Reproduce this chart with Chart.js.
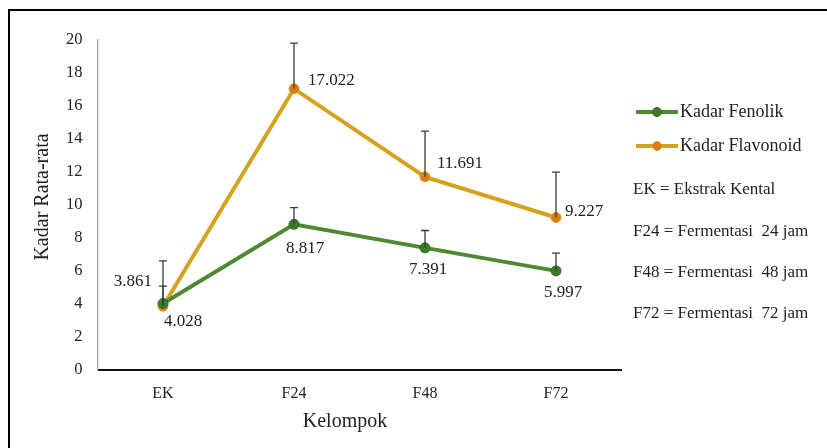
<!DOCTYPE html>
<html>
<head>
<meta charset="utf-8">
<script src="https://cdn.jsdelivr.net/npm/chart.js@4.4.1/dist/chart.umd.min.js"></script>
<style>
  html, body { margin: 0; padding: 0; background: #fff; }
  #wrap { position: relative; width: 827px; height: 448px; }
  #frame { position: absolute; left: 8px; top: 9px; width: 819px; height: 439px;
           border-left: 2px solid #000; border-top: 2px solid #000; box-sizing: border-box; pointer-events: none; }
</style>
</head>
<body>
<div id="wrap">
  <canvas id="chart" width="827" height="448"></canvas>
  <div id="frame"></div>
</div>
<script>
// Data
const kelompok = ['EK', 'F24', 'F48', 'F72'];
const fenolik = [4.028, 8.817, 7.391, 5.997];
const flavonoid = [3.861, 17.022, 11.691, 9.227];
const errFenolik = [1.05, 1.01, 1.05, 1.07];
const errFlavonoid = [2.74, 2.76, 2.77, 2.75];
const yTicks = [0, 2, 4, 6, 8, 10, 12, 14, 16, 18, 20];
const keterangan = ['EK = Ekstrak Kental', 'F24 = Fermentasi  24 jam', 'F48 = Fermentasi  48 jam', 'F72 = Fermentasi  72 jam'];

// offset label data (px) per titik
const offFenolik = [[20, 18], [11, 24], [3, 22], [7, 22]];
const offFlavonoid = [[-11, -25, 'right'], [14, -8, 'left'], [12, -13, 'left'], [9, -6, 'left']];

const SERIF = '"Liberation Serif", "Times New Roman", serif';
const HIJAU = '#4f8a32';
const EMAS = '#d4a21e';

// error bar (hanya arah plus)
const errorBars = {
  id: 'errorBars',
  afterDatasetsDraw(chart) {
    const { ctx, scales: { x, y } } = chart;
    const sets = [[fenolik, errFenolik], [flavonoid, errFlavonoid]];
    ctx.save();
    ctx.strokeStyle = '#3a3a3a';
    ctx.lineWidth = 1.3;
    sets.forEach(([vals, errs]) => {
      vals.forEach((v, i) => {
        const px = x.getPixelForValue(i);
        const y0 = y.getPixelForValue(v);
        const y1 = y.getPixelForValue(v + errs[i]);
        ctx.beginPath();
        ctx.moveTo(px, y0);
        ctx.lineTo(px, y1);
        ctx.moveTo(px - 4, y1);
        ctx.lineTo(px + 4, y1);
        ctx.stroke();
      });
    });
    ctx.restore();
  }
};

// label nilai, legenda, keterangan, judul sumbu
const extras = {
  id: 'extras',
  afterDraw(chart) {
    const { ctx, scales: { x, y } } = chart;
    ctx.save();
    ctx.fillStyle = '#222';
    ctx.font = '17px ' + SERIF;
    ctx.textBaseline = 'middle';
    fenolik.forEach((v, i) => {
      ctx.textAlign = 'center';
      ctx.fillText(v.toFixed(3), x.getPixelForValue(i) + offFenolik[i][0], y.getPixelForValue(v) + offFenolik[i][1]);
    });
    flavonoid.forEach((v, i) => {
      ctx.textAlign = offFlavonoid[i][2];
      ctx.fillText(v.toFixed(3), x.getPixelForValue(i) + offFlavonoid[i][0], y.getPixelForValue(v) + offFlavonoid[i][1]);
    });

    // legenda
    const items = [
      { text: 'Kadar Fenolik', line: HIJAU, fill: '#3e7a28', border: '#2f6a20', y: 112 },
      { text: 'Kadar Flavonoid', line: EMAS, fill: '#e07818', border: '#d4a21e', y: 146 }
    ];
    items.forEach(it => {
      ctx.strokeStyle = it.line;
      ctx.lineWidth = 4;
      ctx.beginPath();
      ctx.moveTo(636, it.y);
      ctx.lineTo(678, it.y);
      ctx.stroke();
      ctx.beginPath();
      ctx.arc(657, it.y, 4.5, 0, Math.PI * 2);
      ctx.fillStyle = it.fill;
      ctx.fill();
      ctx.lineWidth = 1;
      ctx.strokeStyle = it.border;
      ctx.stroke();
      ctx.fillStyle = '#222';
      ctx.font = '18px ' + SERIF;
      ctx.textAlign = 'left';
      ctx.fillText(it.text, 680, it.y);
    });

    ctx.font = '17px ' + SERIF;
    keterangan.forEach((t, i) => {
      ctx.fillText(t, 633, 190 + i * 41.3);
    });

    // judul sumbu
    ctx.font = '20px ' + SERIF;
    ctx.textAlign = 'center';
    ctx.fillText('Kelompok', 345, 422);
    ctx.translate(43, 197);
    ctx.rotate(-Math.PI / 2);
    ctx.fillText('Kadar Rata-rata', 0, 0);
    ctx.restore();
  }
};

new Chart(document.getElementById('chart').getContext('2d'), {
  type: 'line',
  data: {
    labels: kelompok,
    datasets: [
      {
        label: 'Kadar Fenolik',
        data: fenolik,
        borderColor: HIJAU,
        borderWidth: 4,
        pointRadius: 5,
        pointBackgroundColor: '#3e7a28',
        pointBorderColor: '#2f6a20',
        pointBorderWidth: 1,
        tension: 0
      },
      {
        label: 'Kadar Flavonoid',
        data: flavonoid,
        borderColor: EMAS,
        borderWidth: 4,
        pointRadius: 5,
        pointBackgroundColor: '#e07818',
        pointBorderColor: '#d4a21e',
        pointBorderWidth: 1,
        tension: 0
      }
    ]
  },
  options: {
    responsive: false,
    animation: false,
    layout: { padding: { left: 10, top: 39.5, right: 205.5, bottom: 0 } },
    plugins: { legend: { display: false }, tooltip: { enabled: false } },
    scales: {
      x: {
        offset: true,
        grid: { display: false, drawTicks: false },
        border: { color: '#111', width: 2 },
        ticks: { color: '#222', font: { family: SERIF, size: 16 }, padding: 14 },
        afterFit(scale) { scale.height = 78; }
      },
      y: {
        min: 0,
        max: 20,
        afterBuildTicks(scale) { scale.ticks = yTicks.map(v => ({ value: v })); },
        grid: { display: false, drawTicks: false },
        border: { color: '#a6a6a6', width: 1.3 },
        ticks: { color: '#222', font: { family: SERIF, size: 16.5 }, padding: 15 },
        afterFit(scale) { scale.width = 87.5; }
      }
    }
  },
  plugins: [errorBars, extras]
});
</script>
</body>
</html>
